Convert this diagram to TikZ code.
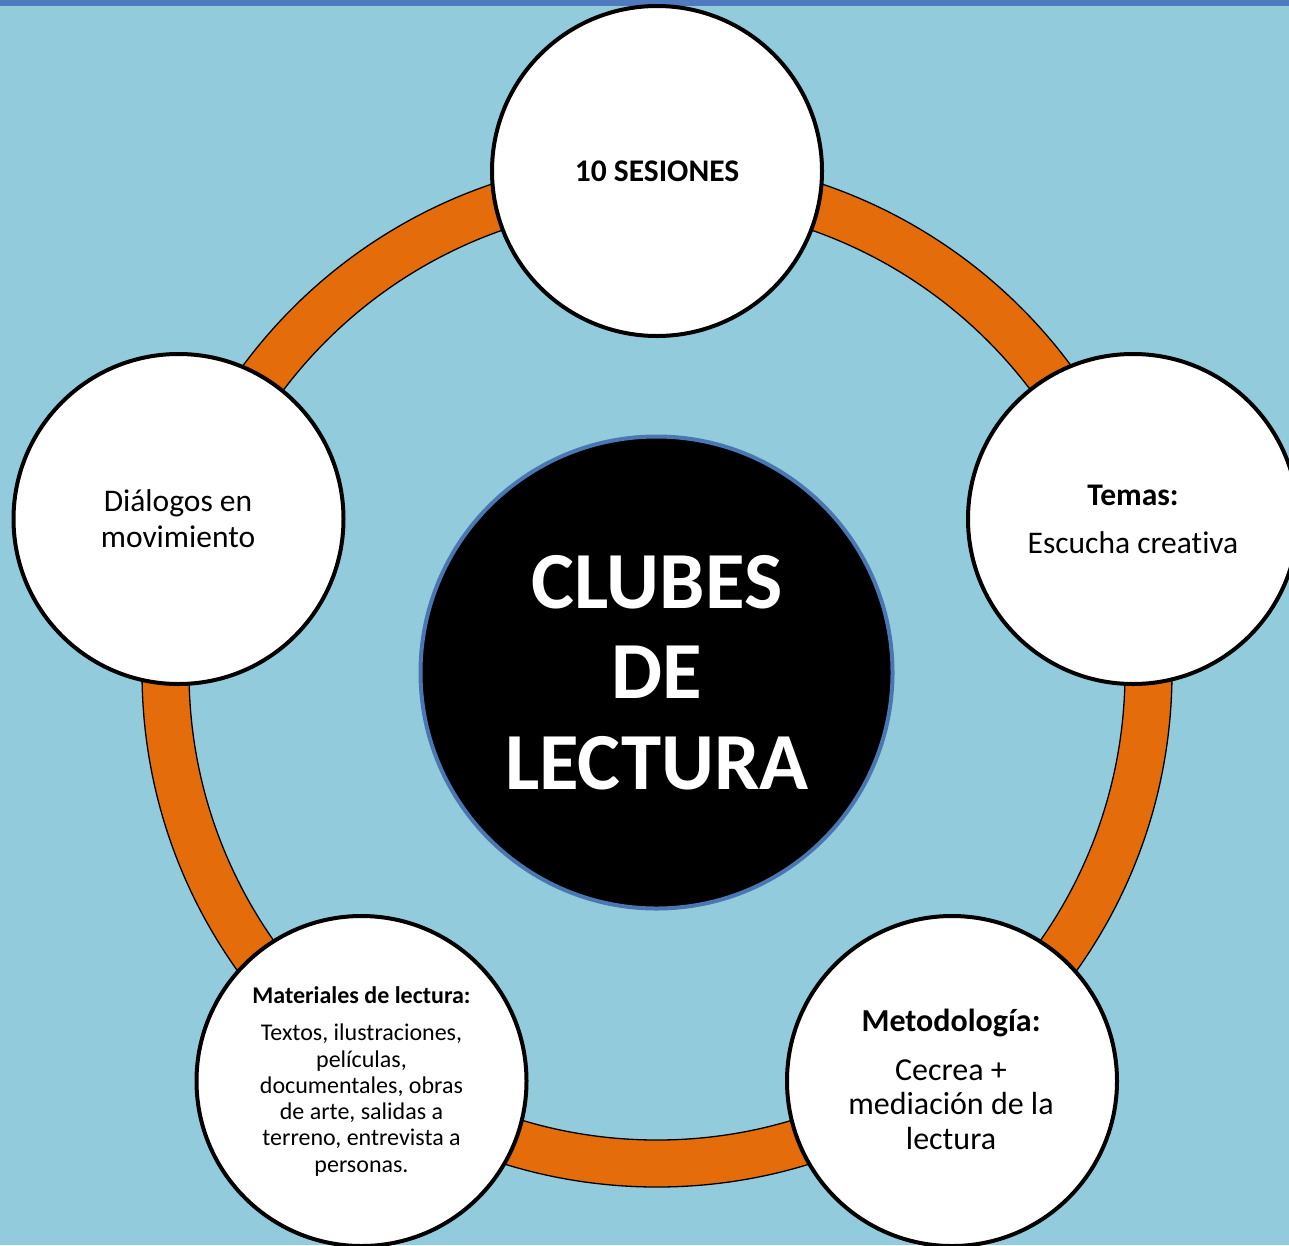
\documentclass[tikz,border=0pt]{standalone}
\usepackage{fontspec}
\setmainfont{Carlito}[Ligatures=NoCommon]
\definecolor{bgaqua}{HTML}{92CCDC}
\definecolor{ringorange}{HTML}{E46C0A}
\definecolor{stripblue}{HTML}{4F7BBE}
\definecolor{hubblue}{HTML}{4A76B2}
\tikzset{
  satellite/.style={circle, draw=black, line width=4pt, fill=white, minimum size=330pt, inner sep=0pt},
  hub/.style={circle, draw=hubblue, line width=4pt, fill=black, minimum size=472pt, inner sep=0pt},
  txt/.style={align=center, text=black, inner sep=0pt},
  bigtxt/.style={txt, font=\fontsize{31.5}{36}\selectfont},
  smalltxt/.style={txt, font=\fontsize{24}{26.3}\selectfont},
  hubtxt/.style={align=center, text=white, inner sep=0pt, font=\fontsize{81}{90.5}\selectfont\bfseries},
  ringband/.style={draw=black, line width=1.3pt, fill=ringorange, even odd rule}
}
\begin{document}
\begin{tikzpicture}[x=1pt,y=-1pt]
\useasboundingbox (0,0) rectangle (1289,1245);
\clip (0,0) rectangle (1289,1245);
\fill[bgaqua] (0,0) rectangle (1289,1245);
\fill[stripblue] (0,0) rectangle (1289,6);
% ring
\coordinate (ctr) at (657,672);
\path[ringband] (ctr) circle (515pt) (ctr) circle (468pt);
% hub
\node[hub] (hubc) at (656.5,672.5) {};
\node[hubtxt] (hubt) at (657,672.5) {CLUBES\\DE\\LECTURA};
% satellites
\node[satellite] (top) at (657,171) {};
\node[satellite] (right) at (1133,519) {};
\node[satellite] (left) at (178.5,519) {};
\node[satellite] (bl) at (361.5,1081) {};
\node[satellite] (br) at (952,1081) {};
% texts
\node[bigtxt] (toptxt) at (657,171) {\textbf{10 SESIONES}};
\node[bigtxt] (righttxt) at (1133,519.5) {\textbf{Temas:}\\[12.7pt]Escucha creativa};
\node[bigtxt] (lefttxt) at (178,519) {Diálogos en\\movimiento};
\node[txt, font=\fontsize{32}{34.5}\selectfont] (brtxt) at (951,1079) {\textbf{Metodología:}\\[14.5pt]Cecrea +\\mediación de la\\lectura};
\node[smalltxt] (bltxt) at (361.5,1081.5) {\textbf{Materiales de lectura:}\\[10.7pt]Textos, ilustraciones,\\películas,\\documentales, obras\\de arte, salidas a\\terreno, entrevista a\\personas.};
\end{tikzpicture}
\end{document}
